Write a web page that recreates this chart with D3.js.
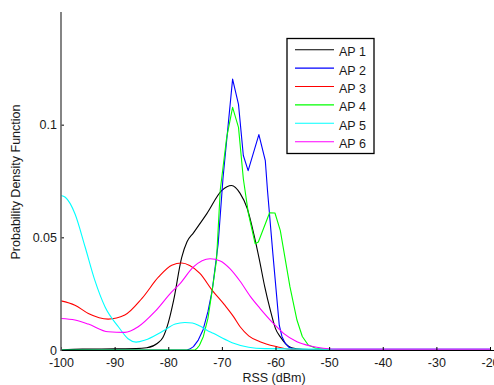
<!DOCTYPE html>
<html>
<head>
<meta charset="utf-8">
<script src="https://cdn.jsdelivr.net/npm/d3@7/dist/d3.min.js"></script>
<style>
  html, body { margin: 0; padding: 0; background: #fff; }
  svg { display: block; }
  text { font-family: "Liberation Sans", Arial, sans-serif; fill: #1a1a1a; }
</style>
</head>
<body>
<svg id="chart" width="494" height="385"></svg>
<script>
// ---- data ----
const seriesNames = ["AP 1", "AP 2", "AP 3", "AP 4", "AP 5", "AP 6"];
const seriesColors = ["#000000", "#0000ff", "#ff0000", "#00ff00", "#00ffff", "#ff00ff"];

const ap1 = [[-100,0],[-96,0.0004],[-90,0.0005],[-86,0.0006],[-84,0.001],[-82,0.003],[-81,0.0055],[-80,0.012],[-79,0.022],[-77.5,0.041],[-76.5,0.048],[-75.3,0.052],[-72.8,0.0605],[-70,0.0708],[-68.2,0.073],[-66.6,0.0695],[-65.3,0.063],[-64,0.051],[-63,0.040],[-62,0.028],[-61,0.018],[-60,0.0095],[-59,0.0055],[-58,0.0025],[-57,0.001],[-55,0.0003],[-50,0],[-20,0]];
const ap2 = [[-100,0],[-76.5,0],[-76,0.0004],[-75.3,0.0015],[-74.4,0.0044],[-73.5,0.009],[-72.6,0.017],[-71.8,0.0265],[-70.7,0.047],[-69.8,0.076],[-68,0.1202],[-66.9,0.109],[-66,0.0863],[-65.1,0.0796],[-63.1,0.0956],[-61.9,0.084],[-61.5,0.071],[-60.5,0.043],[-59.3,0.011],[-58.8,0.006],[-58.2,0.003],[-57.5,0.0012],[-56.5,0.0003],[-55,0],[-20,0]];
const ap3 = [[-100,0.0218],[-97.4,0.0199],[-94.9,0.0162],[-91.2,0.0137],[-88.1,0.0155],[-84.9,0.0229],[-81.8,0.0324],[-79.35,0.0376],[-77.5,0.0386],[-76,0.0375],[-74.1,0.034],[-71.8,0.0265],[-69.5,0.02],[-67.8,0.0147],[-66.6,0.0103],[-65,0.0063],[-62.9,0.0037],[-59.8,0.0015],[-57.5,0.0004],[-55,0.0001],[-20,0]];
const ap4 = [[-100,0],[-75,0],[-74.6,0.0008],[-74.2,0.002],[-73.45,0.006],[-72.6,0.014],[-71.8,0.0265],[-71.0,0.040],[-70.3,0.071],[-69.1,0.0944],[-68,0.1077],[-66.9,0.0988],[-66,0.076],[-65.05,0.0605],[-63.8,0.0472],[-63.2,0.0479],[-61.1,0.0609],[-60.1,0.0608],[-59.1,0.053],[-57.3,0.028],[-56,0.0133],[-55,0.006],[-53.9,0.0022],[-52.5,0.0008],[-50,0.0002],[-20,0]];
const ap5 = [[-100,0.0686],[-99.2,0.0678],[-97.4,0.0605],[-95.5,0.0457],[-93.7,0.031],[-91.8,0.0192],[-89.3,0.0103],[-87.5,0.005],[-86,0.0035],[-84.3,0.0044],[-81.2,0.0081],[-78.7,0.0115],[-76.9,0.0122],[-75.5,0.012],[-74.1,0.0106],[-72.8,0.0088],[-71.6,0.0074],[-68.5,0.0037],[-67.8,0.003],[-65,0.0012],[-62,0.0006],[-55,0.0004],[-20,0.0004]];
const ap6 = [[-100,0.014],[-97.4,0.0133],[-94.9,0.0115],[-91.2,0.0081],[-88.1,0.0078],[-85.6,0.0103],[-82.5,0.017],[-79.35,0.0258],[-77.8,0.0295],[-75.3,0.0369],[-72.2,0.0405],[-70.3,0.0395],[-68.5,0.0361],[-66.6,0.0305],[-64.7,0.0238],[-62.9,0.0185],[-60.4,0.0118],[-58.5,0.0074],[-56,0.0037],[-53.5,0.0018],[-51.1,0.0008],[-48,0.0004],[-20,0.0004]];
const seriesData = [ap1, ap2, ap3, ap4, ap5, ap6];

const xTicks = [-100, -90, -80, -70, -60, -50, -40, -30, -20];
const yTicks = [0, 0.05, 0.1];
const yTickLabels = ["0", "0.05", "0.1"];

// ---- layout ----
const svg = d3.select("#chart");
const mLeft = 61, mRight = 490, mTop = 12, mBottom = 350;
const FS = 12.5;

const x = d3.scaleLinear().domain([-100, -20]).range([mLeft, mRight]);
const y = d3.scaleLinear().domain([0, 0.15]).range([mBottom, mTop]);

// curves (AP 2 and AP 4 are drawn as polylines, the rest smooth)
const smooth = d3.line().x(d => x(d[0])).y(d => y(d[1])).curve(d3.curveMonotoneX);
const poly = d3.line().x(d => x(d[0])).y(d => y(d[1])).curve(d3.curveLinear);
const g = svg.append("g");
seriesData.forEach((s, i) => {
  const gen = (i === 1 || i === 3) ? poly : smooth;
  g.append("path")
    .attr("d", gen(s))
    .attr("fill", "none")
    .attr("stroke", seriesColors[i])
    .attr("stroke-width", 1.1)
    .attr("stroke-linejoin", "round");
});

// x axis
const xAxis = d3.axisBottom(x).tickValues(xTicks).tickSize(0).tickPadding(8)
  .tickFormat(d => d);
const xg = svg.append("g").attr("transform", `translate(0,${mBottom})`).call(xAxis);
xg.select(".domain").remove();
xg.selectAll("text").attr("font-size", FS).attr("fill", "#1a1a1a")
  .attr("font-family", '"Liberation Sans", Arial, sans-serif');
xg.selectAll(".tick").append("line").attr("y1", 0).attr("y2", -3).attr("stroke", "#000");
svg.append("line").attr("x1", mLeft).attr("x2", mRight + 4).attr("y1", mBottom + 0.5).attr("y2", mBottom + 0.5)
  .attr("stroke", "#000").attr("stroke-width", 1);

// y axis
const yAxis = d3.axisLeft(y).tickValues(yTicks).tickSize(0).tickPadding(4)
  .tickFormat((d, i) => yTickLabels[i]);
const yg = svg.append("g").attr("transform", `translate(${mLeft},0)`).call(yAxis);
yg.select(".domain").remove();
yg.selectAll("text").attr("font-size", FS).attr("fill", "#1a1a1a")
  .attr("font-family", '"Liberation Sans", Arial, sans-serif');
yg.selectAll(".tick").append("line").attr("x1", 0).attr("x2", 3).attr("stroke", "#000");
svg.append("line").attr("x1", mLeft).attr("x2", mLeft).attr("y1", mTop).attr("y2", mBottom + 1)
  .attr("stroke", "#666").attr("stroke-width", 1.6);

// axis labels
svg.append("text").attr("x", 274).attr("y", 382).attr("text-anchor", "middle")
  .attr("font-size", FS).text("RSS (dBm)");
svg.append("text").attr("transform", "translate(20,182) rotate(-90)").attr("text-anchor", "middle")
  .attr("font-size", FS).text("Probability Density Function");

// legend
const lg = svg.append("g");
lg.append("rect").attr("x", 287).attr("y", 38.5).attr("width", 87).attr("height", 115)
  .attr("fill", "#fff").attr("stroke", "#000").attr("stroke-width", 1.3);
seriesNames.forEach((n, i) => {
  const yy = 49.7 + i * 18.4;
  lg.append("line").attr("x1", 295).attr("x2", 334).attr("y1", yy).attr("y2", yy)
    .attr("stroke", seriesColors[i]).attr("stroke-width", 1.1);
  lg.append("text").attr("x", 339).attr("y", yy + 6.5).attr("font-size", FS).text(n);
});
</script>
</body>
</html>
